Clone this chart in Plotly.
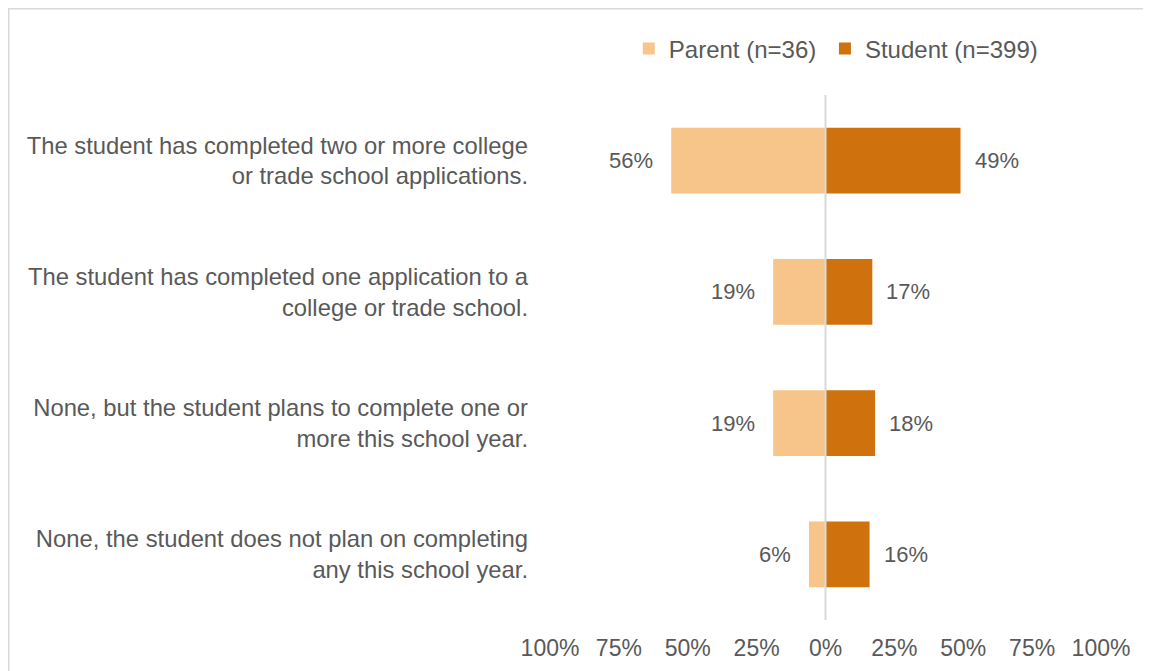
import plotly.graph_objects as go

categories = [
    "The student has completed two or more college<br>or trade school applications.",
    "The student has completed one application to a<br>college or trade school.",
    "None, but the student plans to complete one or<br>more this school year.",
    "None, the student does not plan on completing<br>any this school year.",
]
parent = [56, 19, 19, 6]
student = [49, 17, 18, 16]
tick_vals = [-100, -75, -50, -25, 0, 25, 50, 75, 100]
tick_text = ["100%", "75%", "50%", "25%", "0%", "25%", "50%", "75%", "100%"]

PARENT_COLOR = "#F7C48A"
STUDENT_COLOR = "#CF720E"
TEXT_COLOR = "#595959"
FONT = "Liberation Sans, Arial, sans-serif"

fig = go.Figure()
fig.add_trace(go.Bar(
    y=categories, x=[-v for v in parent], orientation="h",
    name="Parent (n=36)", marker=dict(color=PARENT_COLOR, line=dict(width=0)),
    width=0.5, legend="legend",
))
fig.add_trace(go.Bar(
    y=categories, x=student, orientation="h",
    name="Student (n=399)", marker=dict(color=STUDENT_COLOR, line=dict(width=0)),
    width=0.5, legend="legend2",
))

# value labels beside the bars
for cat, p, s in zip(categories, parent, student):
    fig.add_annotation(x=-p, y=cat, text=f"{p}%", showarrow=False,
                       xanchor="right", xshift=-16, font=dict(size=22, color=TEXT_COLOR))
    fig.add_annotation(x=s, y=cat, text=f"{s}%", showarrow=False,
                       xanchor="left", xshift=12, font=dict(size=22, color=TEXT_COLOR))

# centre line
fig.add_shape(type="line", x0=0, x1=0, y0=0, y1=1, xref="x", yref="paper",
              line=dict(color="#D9D9D9", width=2), layer="above")

# chart frame (top and left edges)
fig.add_shape(type="path", xref="paper", yref="paper",
              path="M -0.9828,-0.12 L -0.9828,1.1648 L 1.11,1.1648",
              line=dict(color="#D9D9D9", width=2), layer="below")

legend_style = dict(orientation="h", yanchor="middle", y=1.0876, xanchor="left",
                    font=dict(size=24, color=TEXT_COLOR), itemwidth=30,
                    bgcolor="rgba(0,0,0,0)")

fig.update_layout(
    width=1151, height=671,
    margin=dict(l=542, r=58, t=87, b=59),
    barmode="relative",
    plot_bgcolor="white", paper_bgcolor="white",
    font=dict(family=FONT, size=22, color=TEXT_COLOR),
    showlegend=True,
    legend=dict(x=0.143, **legend_style),
    legend2=dict(x=0.499, **legend_style),
)
fig.update_xaxes(range=[-100, 100], tickvals=tick_vals, ticktext=tick_text,
                 tickfont=dict(size=23),
                 showgrid=False, zeroline=False, showline=False,
                 ticks="", ticklabelstandoff=12, fixedrange=True)
fig.update_yaxes(autorange="reversed", showgrid=False, zeroline=False, showline=False,
                 tickfont=dict(size=23.8),
                 ticks="", ticklabelstandoff=21, fixedrange=True)

fig.write_html("out.html")
